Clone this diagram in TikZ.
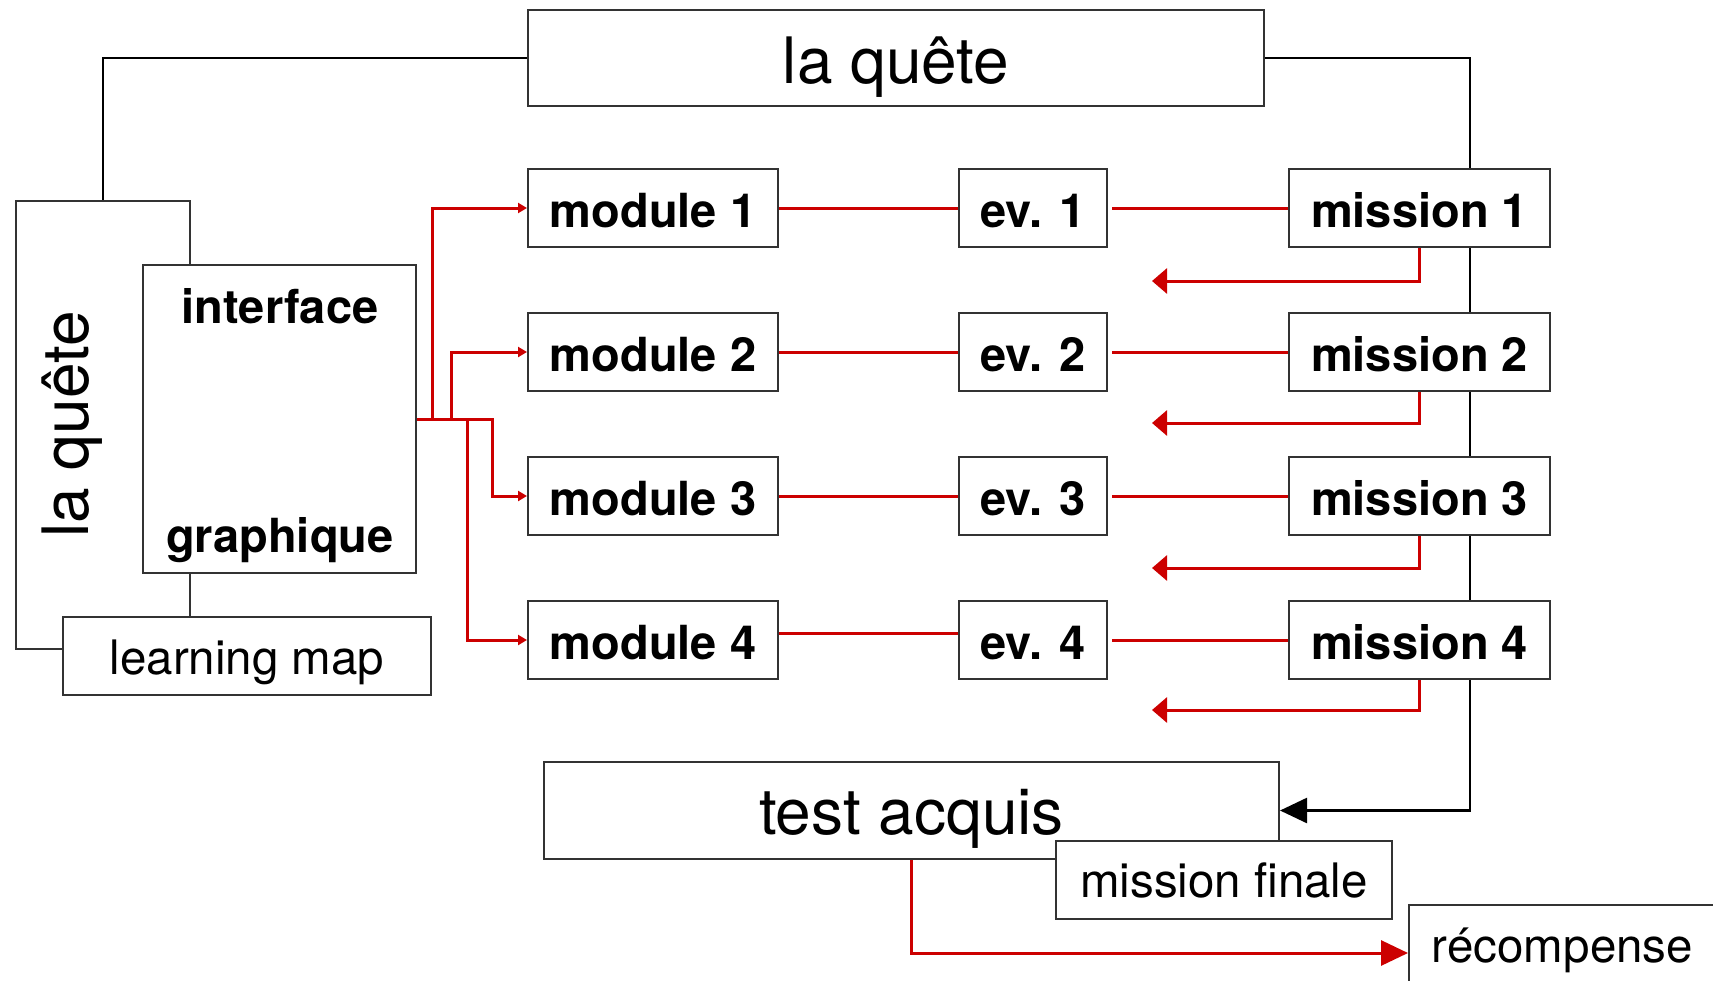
\documentclass[tikz,border=0pt]{standalone}
\usepackage{fontspec}
\setmainfont{TeX Gyre Heros}
\usetikzlibrary{arrows.meta,calc}
\definecolor{boxcol}{HTML}{333333}
\definecolor{redc}{HTML}{CC0000}
\newcommand\fbig{\fontsize{64}{72}\selectfont}
\newcommand\fbold{\fontsize{47}{56}\selectfont\bfseries}
\newcommand\freg{\fontsize{47.5}{56}\selectfont}
\begin{document}
\begin{tikzpicture}[x=1pt,y=-1pt,
  box/.style={draw=boxcol, line width=2pt, fill=white, inner sep=0pt, text depth=0pt},
  rowbox/.style={box, minimum height=78pt, text height=38pt, font=\fbold},
  modbox/.style={rowbox, minimum width=250pt},
  evbox/.style={rowbox, minimum width=148pt},
  misbox/.style={rowbox, minimum width=261pt},
  blk/.style={draw=black, line width=2.5pt},
  redl/.style={draw=redc, line width=3pt},
  rsmall/.style={redl, -{Triangle[length=9pt,width=10pt]}},
  rret/.style={redl, -{Triangle[length=15pt,width=25pt]}},
  rbig/.style={redl, -{Triangle[length=27pt,width=25pt]}},
  bbig/.style={blk, -{Triangle[length=27pt,width=25pt]}}]
\useasboundingbox (0,0) rectangle (1713,980);
\clip (0,0) rectangle (1713,980);

% top box
\node[box, minimum width=736pt, minimum height=96pt, text height=50pt, font=\fbig] (topq) at (896,58) {la quête};

% left box and its overlapping boxes
\node[box, minimum width=174pt, minimum height=448pt] (lq) at (103,425) {};
\node[rotate=90, anchor=base, inner sep=0pt, font=\fbig] (lqtext) at (88.6,424.5) {la quête};
\node[box, minimum width=273pt, minimum height=308pt] (iface) at (279.5,419) {};
\node[anchor=base, inner sep=0pt, font=\fbold] (ift1) at (280,323) {interface};
\node[anchor=base, inner sep=0pt, font=\fbold] (ift2) at (280,552) {graphique};
\node[box, minimum width=368pt, minimum height=78pt, text height=36pt, font=\freg] (lmap) at (247,656) {learning map};

% rows
\foreach \i/\y in {1/208,2/352,3/496,4/640}{
  \node[modbox] (mod\i) at (653,\y) {module \i};
  \node[evbox] (ev\i) at (1033,\y) {ev. \i};
  \node[misbox] (ms\i) at (1419.5,\y) {mission \i};
}

% bottom boxes
\node[box, minimum width=735pt, minimum height=97pt, text height=47pt, font=\fbig] (test) at (911.5,810.5) {test acquis};
\node[box, minimum width=336pt, minimum height=78pt, text height=34pt, font=\freg] (mfin) at (1224,880) {mission finale};
\node[box, minimum width=307pt, minimum height=96pt, text height=18pt, font=\freg] (rec) at (1562.5,953) {récompense};

% black connectors
\coordinate (sp) at (1470,0);
\draw[blk] (topq.west) -| (lq.north);
\draw[blk] (topq.east) -| (ms1.north -| sp);
\draw[blk] (ms1.south -| sp) -- (ms2.north -| sp);
\draw[blk] (ms2.south -| sp) -- (ms3.north -| sp);
\draw[blk] (ms3.south -| sp) -- (ms4.north -| sp);
\draw[bbig] (ms4.south -| sp) |- (test.east);

% red fan-out from interface
\draw[rsmall] (iface.east) -- ++(15,0) |- (mod1.west);
\draw[rsmall] (iface.east) -- ++(34,0) |- (mod2.west);
\draw[rsmall] (iface.east) -- ++(75,0) |- (mod3.west);
\draw[rsmall] (iface.east) -- ++(50,0) |- (mod4.west);

% red row lines
\foreach \i in {1,2,3}{
  \draw[redl] (mod\i.east) -- (ev\i.west);
}
\draw[redl] ([yshift=7pt]mod4.east) -- ([yshift=7pt]mod4.east -| ev4.west);
\foreach \i in {1,2,3,4}{
  \draw[redl] ([xshift=4pt]ev\i.east) -- (ms\i.west);
}

% return arrows
\coordinate (r1) at (1152,281);
\coordinate (r2) at (1152,423);
\coordinate (r3) at (1152,568);
\coordinate (r4) at (1152,710);
\foreach \i in {1,2,3,4}{
  \draw[rret] (ms\i.south) |- (r\i);
}

% test -> recompense
\draw[rbig] (test.south) |- (rec.west);
\end{tikzpicture}
\end{document}
